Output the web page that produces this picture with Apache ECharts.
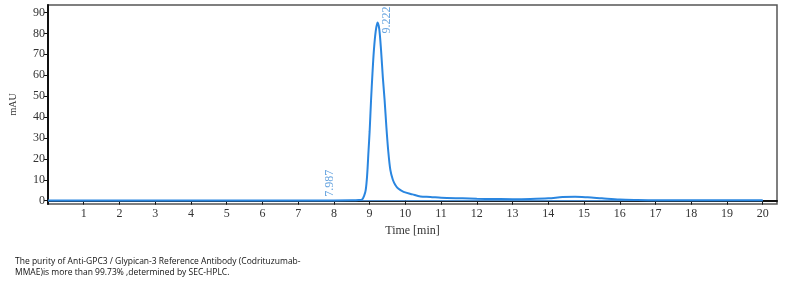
<!DOCTYPE html>
<html><head><meta charset="utf-8">
<script src="https://cdn.jsdelivr.net/npm/echarts@6/dist/echarts.min.js"></script>
<style>html,body{margin:0;padding:0;background:#fff}#c{width:791px;height:288px}</style>
</head><body><div id="c"></div>
<script>
var times = [0, 2, 4, 6, 7, 8, 8.5, 8.7, 8.79, 8.85, 8.89, 8.93, 8.97, 9.0, 9.04, 9.08, 9.12, 9.17, 9.222, 9.27, 9.32, 9.37, 9.42, 9.47, 9.52, 9.58, 9.65, 9.72, 9.8, 9.95, 10.2, 10.42, 10.7, 11, 11.6, 12, 12.5, 13, 13.5, 14, 14.4, 14.75, 15.1, 15.5, 16, 16.5, 17, 18, 19, 20];
var absorbance = [0.1, 0.1, 0.1, 0.1, 0.1, 0.1, 0.15, 0.3, 0.6, 2.5, 5, 12, 24, 33, 48, 61, 72, 81, 85.2, 82, 72, 59, 48, 35, 24, 14.7, 10, 7.5, 5.8, 4.2, 3.0, 2.0, 1.8, 1.4, 1.1, 0.9, 0.8, 0.7, 0.8, 1.1, 1.7, 1.9, 1.6, 1.1, 0.5, 0.3, 0.2, 0.2, 0.2, 0.2];
var baselineTimes = [0, 20];
var baselineValues = [0, 0];
var peakTimes = [7.987, 9.222];
var peakValues = [0, 85.2];
var peakLabels = ['7.987', '9.222'];
var xTicks = [1,2,3,4,5,6,7,8,9,10,11,12,13,14,15,16,17,18,19,20];
var yTicks = [0,10,20,30,40,50,60,70,80,90];
var caption = ['The purity of Anti-GPC3 / Glypican-3 Reference Antibody (Codrituzumab-', 'MMAE)is more than 99.73% ,determined by SEC-HPLC.'];

var chart = echarts.init(document.getElementById('c'));
var serif = '"Liberation Serif", "DejaVu Serif", serif';
var labelOffsets = [[-4, -4], [9, 11]];
chart.setOption({
  animation: false,
  grid: {left: 48, top: 5, right: 14, bottom: 84, show: true, borderColor: '#555', borderWidth: 1.5},
  xAxis: {
    type: 'value', min: 0, max: 20.4,
    name: 'Time [min]', nameLocation: 'middle', nameGap: 21,
    nameTextStyle: {fontFamily: serif, fontSize: 12, color: '#333'},
    axisLine: {lineStyle: {color: '#111', width: 2}},
    axisTick: {customValues: xTicks, length: 4, lineStyle: {color: '#111'}},
    axisLabel: {customValues: xTicks, fontFamily: serif, fontSize: 12, color: '#333', margin: 4},
    splitLine: {show: false}
  },
  yAxis: {
    type: 'value', min: -1.6, max: 93.6,
    name: 'mAU', nameLocation: 'middle', nameGap: 30,
    nameTextStyle: {fontFamily: serif, fontSize: 10, color: '#333'},
    axisLine: {show: true, lineStyle: {color: '#111', width: 2}},
    axisTick: {show: true, customValues: yTicks, length: 4, lineStyle: {color: '#111'}},
    axisLabel: {customValues: yTicks, fontFamily: serif, fontSize: 12, color: '#333', margin: 3},
    splitLine: {show: false}
  },
  series: [
    {type: 'line', data: baselineTimes.map(function(t, i){return [t, baselineValues[i]];}),
     symbol: 'none', lineStyle: {color: '#5a9fe6', width: 1}, z: 1},
    {type: 'line', data: times.map(function(t, i){return [t, absorbance[i]];}),
     symbol: 'none', smooth: 0.3, lineStyle: {color: '#2a86e0', width: 2}, z: 2}
  ]
});
var graphics = [
  {type: 'text', left: 15, top: 256, style: {text: caption.join('\n'), font: '8.5px "Open Sans", sans-serif', fill: '#111', lineHeight: 11}}
];
peakTimes.forEach(function(t, i){
  var p = chart.convertToPixel({xAxisIndex: 0, yAxisIndex: 0}, [t, peakValues[i]]);
  graphics.push({type: 'text', x: p[0] + labelOffsets[i][0], y: p[1] + labelOffsets[i][1], rotation: Math.PI / 2,
    style: {text: peakLabels[i], font: '12px ' + serif, fill: '#6aa6e0', align: 'left', verticalAlign: 'middle'}});
});
chart.setOption({graphic: graphics});
</script></body></html>
